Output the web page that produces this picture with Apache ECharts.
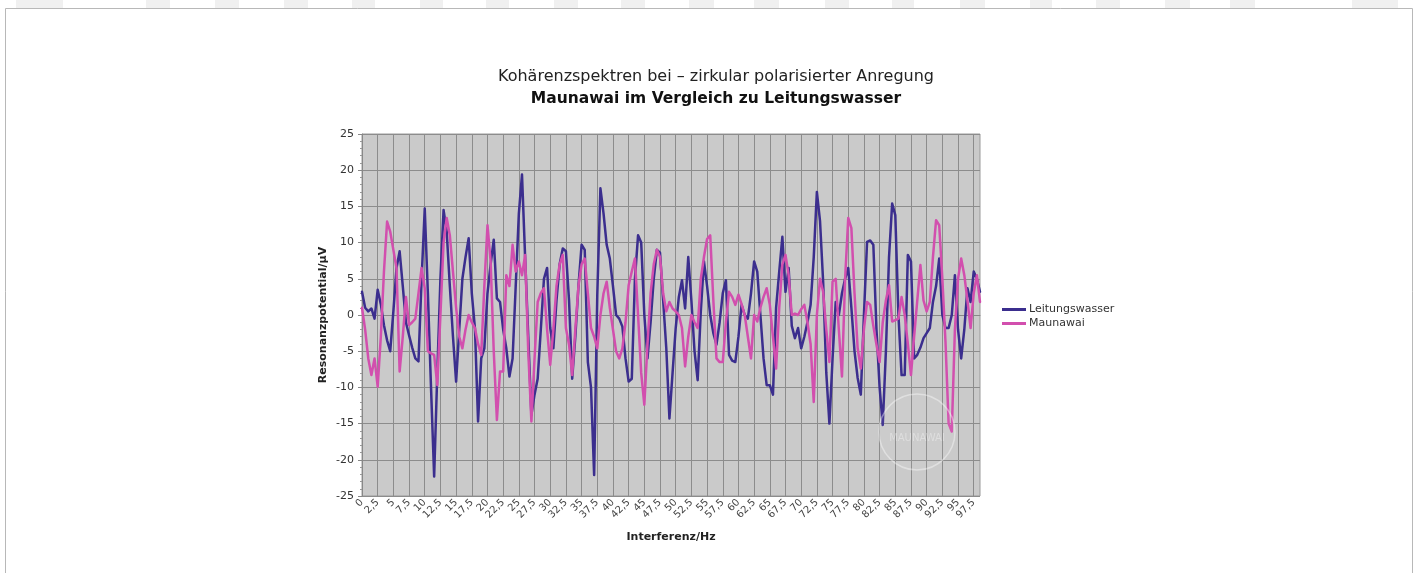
<!DOCTYPE html>
<html>
<head>
<meta charset="utf-8">
<title>Kohärenzspektren</title>
<script src="https://cdn.jsdelivr.net/npm/echarts@6/dist/echarts.min.js"></script>
<style>
  html, body { margin: 0; padding: 0; background: #fff; }
  #chart { width: 1417px; height: 573px; }
</style>
</head>
<body>
<div id="chart"></div>
<script>
var leitungswasser = [
  3.2, 1, 0.5, 0.9, -0.5, 3.5, 1.5, -1.4, -3.5, -5,
  0.5, 6.5, 8.8, 4, -1, -2.8, -4.5, -6, -6.4, 5,
  14.7, 3, -10, -22.3, -8, 5, 14.5, 11.5, 4, -3,
  -9.2, -2, 5, 8, 10.6, 3, -1.8, -14.7, -6, -4.6,
  3, 7, 10.4, 2.3, 1.8, -2, -4.6, -8.5, -6, 4,
  14, 19.4, 8, -3, -13.8, -11, -8.8, -2, 5, 6.5,
  -1.8, -4.6, 2, 7, 9.2, 8.8, 2, -8.8, -3, 4,
  9.7, 9, -6.5, -10, -22.1, 2.8, 17.5, 14, 9.7, 7.8,
  4, 0, -0.5, -1.6, -6, -9.2, -8.8, 5, 11, 10,
  0, -6, -1, 5, 9, 8.6, 2, -4.6, -14.3, -8,
  -1.8, 2.5, 4.8, 0.9, 8, 2, -5, -9, 0.5, 7.4,
  4, 0, -2.5, -4.1, -1, 3, 4.8, -5.5, -6.3, -6.5,
  -3, 1.4, 0, -0.5, 3, 7.4, 6, 0, -6, -9.7,
  -9.7, -11, 1, 6, 10.8, 3.2, 6.5, -1.5, -3.2, -1.8,
  -4.6, -3, -1, 1.4, 8, 17, 13, 4.6, -8, -15,
  -6, 1.8, 0, 3, 5, 6.5, 1, -5, -8.7, -11,
  0, 10.1, 10.3, 9.7, -2, -10, -15.2, -5, 8, 15.4,
  13.8, 0, -8.3, -8.3, 8.3, 7.4, -6, -5.5, -4.5, -3.2,
  -2.5, -1.8, 1.8, 4, 7.8, 0, -1.8, -1.8, 0, 5.5,
  -2, -6, -2, 3.7, 1.8, 6, 5, 3.2
];
var maunawai = [
  1, -2, -6, -8.3, -6, -9.9, -3, 6, 12.9, 11.5,
  9, 6.5, -7.8, -3, 2.5, -1.4, -1, -0.5, 3, 6.5,
  3.7, -5, -5.3, -5.5, -9.7, 0, 10, 13.4, 11, 6,
  1, -3, -4.6, -2, 0, -1, -1.8, -4, -5.5, 4,
  12.4, 7.4, -5, -14.5, -7.8, -7.8, 5.5, 4, 9.7, 6,
  7.4, 5.5, 8.3, -5, -14.7, -6, 1.8, 3, 3.7, -2,
  -6.9, -2, 4, 7, 8.3, -1.8, -4.1, -8.3, -2, 4,
  7, 7.8, 3, -1.8, -3, -4.6, 0, 3, 4.6, 1,
  -2, -5, -6, -4.6, -1, 4.1, 6, 7.8, 0, -8,
  -12.4, -4, 3, 7, 9, 8, 3, 0.5, 1.8, 0.9,
  0.5, 0, -1.8, -7.1, -3, 0, -1, -1.8, 5, 8,
  10.5, 11, 2, -6, -6.5, -6.5, -1, 3.2, 2.5, 1.4,
  2.8, 1.5, 0, -3, -6, 0, -0.9, 1, 2.5, 3.7,
  1.4, -3, -7.4, 1, 7, 8.3, 5.5, 0, 0.2, 0,
  0.8, 1.4, -1, -4, -12, 0, 5, 3.2, -2, -6.5,
  4.6, 5, -2, -8.5, 5, 13.4, 12, 3, -4.6, -7.4,
  -2, 1.8, 1.4, -1.5, -4.1, -6.5, -1, 2, 4.1, -0.9,
  -0.7, -0.5, 2.5, 0, -4, -8.3, -3, 2, 6.9, 2,
  0.5, 1.8, 8, 13.1, 12.4, 5, -3.7, -15, -16.1, -2,
  5, 7.8, 5.5, 2, -1.8, 3, 5.5, 1.8
];
// Kategorien: Frequenz in Hz, Beschriftung mit Dezimalkomma
var frequenz = leitungswasser.map(function (v, i) { return String(i * 0.5).replace('.', ','); });
var seriesNames = ['Leitungswasser', 'Maunawai'];
var colors = ['#3b2e8e', '#d24fae'];

// graue Kästchen am oberen Rand
var topBlocks = [[16, 47], [146, 24], [215, 24], [284, 24], [352, 23], [420, 23], [486, 23],
  [554, 24], [621, 24], [689, 25], [754, 25], [825, 24], [892, 22], [960, 25], [1030, 22],
  [1096, 24], [1165, 25], [1230, 25], [1352, 46]];
var graphics = topBlocks.map(function (b) {
  return { type: 'rect', shape: { x: b[0], y: 0, width: b[1], height: 8 }, style: { fill: '#f0f0f0' }, silent: true };
});
graphics.push({ type: 'rect', shape: { x: 5.5, y: 8.5, width: 1407, height: 580 }, style: { fill: 'none', stroke: '#b8b8b8', lineWidth: 1 }, silent: true });
// Wasserzeichen
graphics.push({ type: 'circle', shape: { cx: 917, cy: 432, r: 38 }, style: { fill: 'rgba(255,255,255,0.05)', stroke: 'rgba(255,255,255,0.4)', lineWidth: 1.5 }, z: 100, silent: true });
graphics.push({ type: 'text', x: 917, y: 438, style: { text: 'MAUNAWAI', fill: 'rgba(255,255,255,0.35)', font: '10px "DejaVu Sans"', align: 'center', verticalAlign: 'middle' }, z: 100, silent: true });

var chart = echarts.init(document.getElementById('chart'));
chart.setOption({
  backgroundColor: '#ffffff',
  animation: false,
  color: colors,
  textStyle: { fontFamily: '"DejaVu Sans", Verdana, sans-serif' },
  title: [{
    text: 'Kohärenzspektren bei – zirkular polarisierter Anregung',
    left: 711, top: 64, textAlign: 'center',
    textStyle: { fontSize: 16, fontWeight: 'normal', color: '#222' }
  }, {
    text: 'Maunawai im Vergleich zu Leitungswasser',
    left: 711, top: 86, textAlign: 'center',
    textStyle: { fontSize: 15.5, fontWeight: 'bold', color: '#111' }
  }],
  legend: {
    orient: 'vertical',
    left: 997, top: 299,
    itemWidth: 24, itemHeight: 3, itemGap: 3,
    icon: 'rect',
    data: seriesNames,
    textStyle: { fontSize: 11, color: '#333', padding: [0, 0, 0, -2] }
  },
  grid: {
    left: 362, top: 134, width: 618, height: 362,
    show: true, backgroundColor: '#cacaca', borderColor: '#9a9a9a', borderWidth: 1
  },
  xAxis: {
    type: 'category',
    data: frequenz,
    boundaryGap: false,
    name: 'Interferenz/Hz',
    nameLocation: 'middle',
    nameGap: 36,
    nameTextStyle: { fontSize: 11, fontWeight: 'bold', color: '#222' },
    axisLine: { lineStyle: { color: '#888' } },
    axisTick: { interval: 4, length: 4, lineStyle: { color: '#888' } },
    axisLabel: { interval: 4, rotate: 45, fontSize: 10, color: '#444', margin: 5 },
    splitLine: { show: true, interval: 4, lineStyle: { color: '#8c8c8c', width: 1 } }
  },
  yAxis: {
    type: 'value',
    min: -25, max: 25, interval: 5,
    name: 'Resonanzpotential/µV',
    nameLocation: 'middle',
    nameRotate: 90,
    nameGap: 33,
    nameTextStyle: { fontSize: 11, fontWeight: 'bold', color: '#222' },
    axisLine: { show: true, lineStyle: { color: '#888' } },
    axisTick: { show: true, length: 4, lineStyle: { color: '#888' } },
    minorTick: { show: true, splitNumber: 5, length: 2, lineStyle: { color: '#999' } },
    axisLabel: { fontSize: 11, color: '#333', margin: 8 },
    splitLine: { show: true, lineStyle: { color: '#8c8c8c', width: 1 } }
  },
  series: [{
    name: seriesNames[0],
    type: 'line',
    data: leitungswasser,
    symbol: 'none',
    lineStyle: { width: 2.5, join: 'round', cap: 'round' }
  }, {
    name: seriesNames[1],
    type: 'line',
    data: maunawai,
    symbol: 'none',
    lineStyle: { width: 2.5, join: 'round', cap: 'round' }
  }],
  graphic: graphics
});
</script>
</body>
</html>
